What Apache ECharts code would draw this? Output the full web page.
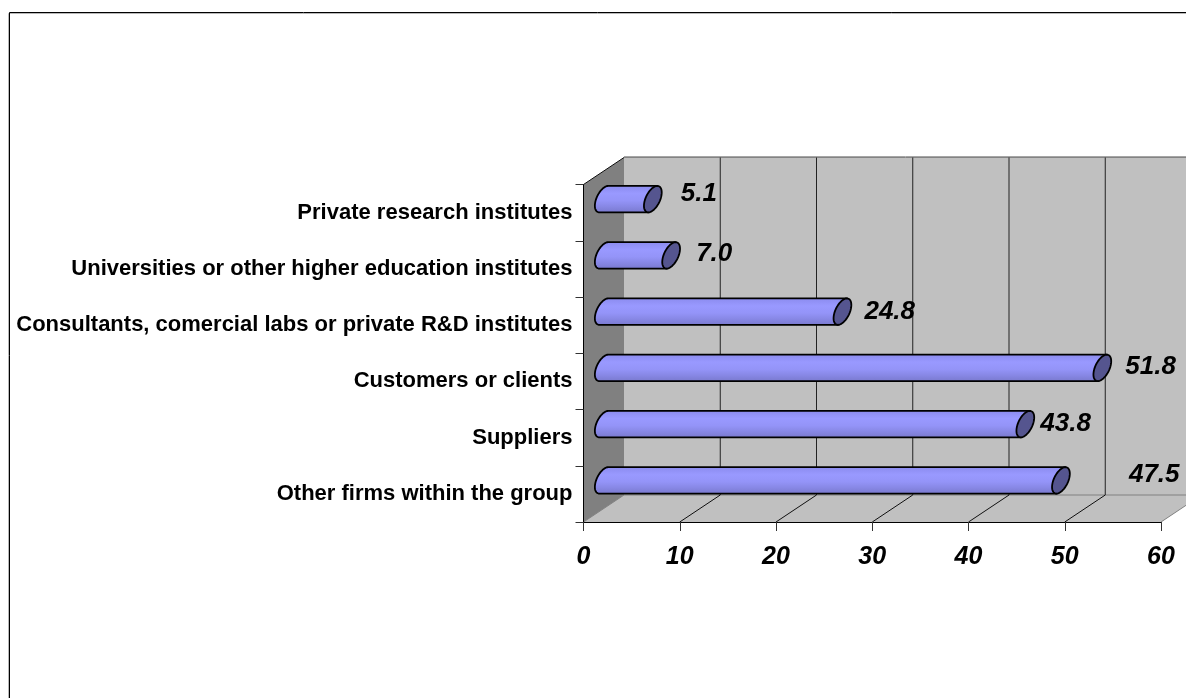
<!DOCTYPE html>
<html>
<head>
<meta charset="utf-8">
<style>
  html, body { margin: 0; padding: 0; background: #fff; overflow: hidden; }
  #chart { width: 1186px; height: 698px; }
</style>
<script src="https://cdn.jsdelivr.net/npm/echarts@6/dist/echarts.min.js"></script>
</head>
<body>
<div id="chart"></div>
<script>
// Sources of information for innovation, share of firms (%)
const categories = [
  'Private research institutes',
  'Universities or other higher education institutes',
  'Consultants, comercial labs or private R&D institutes',
  'Customers or clients',
  'Suppliers',
  'Other firms within the group'
];
const values = [5.1, 7.0, 24.8, 51.8, 43.8, 47.5];
const xTicks = [0, 10, 20, 30, 40, 50, 60];

// Gap from the bar end to its label, and vertical shift of the label, in px
const labelGapX = [28, 25, 22, 23, 15, 68];
const labelShiftY = [-5, -1.5, 0, -1, 0, -6];

// Oblique projection of the box: how far the back plane sits from the front plane
const DEPTH_X = 40.5;
const DEPTH_Y = -27;

const FONT = '"Liberation Sans", Arial, sans-serif';
const chart = echarts.init(document.getElementById('chart'), null, { renderer: 'canvas' });

// Point on the tilted end ellipse of a cylinder
function capPoint(cx, cy, r, t) {
  return [cx + r * 0.34 * Math.cos(t) + r * 0.58 * Math.sin(t), cy - r * Math.cos(t)];
}

function renderPanels(params, api) {
  const c = params.coordSys;
  const x0 = c.x, x1 = c.x + c.width, y0 = c.y, y1 = c.y + c.height;
  const poly = (points, fill) => ({
    type: 'polygon', shape: { points }, style: { fill, stroke: null }, silent: true
  });
  const seg = (a, b, stroke) => ({
    type: 'line',
    shape: { x1: a[0], y1: a[1], x2: b[0], y2: b[1] },
    style: { stroke, lineWidth: 1 }, silent: true
  });
  return {
    type: 'group',
    children: [
      poly([[x0 + DEPTH_X, y0 + DEPTH_Y], [x1 + DEPTH_X, y0 + DEPTH_Y], [x1 + DEPTH_X, y1 + DEPTH_Y], [x0 + DEPTH_X, y1 + DEPTH_Y]], '#c0c0c0'),
      poly([[x0, y1], [x1, y1], [x1 + DEPTH_X, y1 + DEPTH_Y], [x0 + DEPTH_X, y1 + DEPTH_Y]], '#c0c0c0'),
      poly([[x0, y0], [x0 + DEPTH_X, y0 + DEPTH_Y], [x0 + DEPTH_X, y1 + DEPTH_Y], [x0, y1]], '#808080'),
      seg([x0 + DEPTH_X, y0 + DEPTH_Y], [x1 + DEPTH_X, y0 + DEPTH_Y], '#808080'),
      seg([x0 + DEPTH_X, y0 + DEPTH_Y - 0.8], [x1 + DEPTH_X, y0 + DEPTH_Y - 0.8], '#909090'),
      seg([x0 + DEPTH_X, y1 + DEPTH_Y], [x1 + DEPTH_X, y1 + DEPTH_Y], '#808080'),
      seg([x0, y0], [x0 + DEPTH_X, y0 + DEPTH_Y], '#111111')
    ]
  };
}

function renderGridLines(params, api) {
  const c = params.coordSys;
  const t = api.value(0);
  const x = api.coord([t, 0])[0];
  const y0 = c.y, y1 = c.y + c.height;
  const children = [];
  const edge = t === xTicks[0] || t === xTicks[xTicks.length - 1];
  children.push({
    type: 'line',
    shape: { x1: x, y1: y1, x2: x + DEPTH_X, y2: y1 + DEPTH_Y },
    style: { stroke: edge ? '#808080' : '#111111', lineWidth: 1 }, silent: true
  });
  if (!edge) {
    children.push({
      type: 'line',
      shape: { x1: x + DEPTH_X, y1: y0 + DEPTH_Y, x2: x + DEPTH_X, y2: y1 + DEPTH_Y },
      style: { stroke: '#222222', lineWidth: 1 }, silent: true
    });
  }
  return { type: 'group', children };
}

// Cylinders stand at mid-depth of the box
function renderCylinder(params, api) {
  const v = api.value(0);
  const start = api.coord([0, api.value(1)]);
  const end = api.coord([v, api.value(1)]);
  const band = api.size([0, 1])[1];
  const r = band * 0.235;
  const cy = end[1] + DEPTH_Y / 2;
  const lx = start[0] + DEPTH_X / 2;
  const rx = end[0] + DEPTH_X / 2;
  const STEPS = 28;

  const body = [];
  for (let i = 0; i <= STEPS; i++) {
    body.push(capPoint(lx, cy, r, -Math.PI * i / STEPS));
  }
  body.push(capPoint(rx, cy, r, Math.PI));
  body.push(capPoint(rx, cy, r, 0));

  const cap = [];
  for (let i = 0; i < STEPS * 2; i++) {
    cap.push(capPoint(rx, cy, r, Math.PI * i / STEPS));
  }

  const sheen = new echarts.graphic.LinearGradient(0, 0, 0, 1, [
    { offset: 0, color: '#8b8bec' },
    { offset: 0.12, color: '#9090f4' },
    { offset: 0.3, color: '#9999ff' },
    { offset: 0.55, color: '#9494f8' },
    { offset: 0.75, color: '#8888e6' },
    { offset: 1, color: '#7878cc' }
  ]);

  return {
    type: 'group',
    children: [
      {
        type: 'polygon', shape: { points: body },
        style: { fill: sheen, stroke: '#000000', lineWidth: 1.8, lineJoin: 'round' }
      },
      {
        type: 'polygon', shape: { points: cap },
        style: { fill: '#55558f', stroke: '#000000', lineWidth: 1.8, lineJoin: 'round' }
      }
    ]
  };
}

function renderValueLabel(params, api) {
  const i = params.dataIndex;
  const end = api.coord([api.value(0), api.value(1)]);
  return {
    type: 'text',
    x: end[0] + DEPTH_X / 2 + labelGapX[i],
    y: end[1] + DEPTH_Y / 2 + labelShiftY[i],
    style: {
      text: api.value(0).toFixed(1),
      fill: '#000000',
      font: 'italic bold 26px ' + FONT,
      textAlign: 'left',
      textVerticalAlign: 'middle'
    }
  };
}

const barData = values.map((v, i) => [v, i]);

chart.setOption({
  animation: false,
  backgroundColor: '#ffffff',
  grid: { left: 583.5, right: 25, top: 184.5, bottom: 176, containLabel: false },
  xAxis: {
    type: 'value', min: 0, max: 60, interval: 10, z: 5,
    axisLine: { show: true, lineStyle: { color: '#000000', width: 1 } },
    axisTick: { show: true, length: 9, lineStyle: { color: '#333333', width: 1 } },
    splitLine: { show: false },
    axisLabel: {
      color: '#000000', margin: 23,
      fontFamily: FONT, fontWeight: 'bold', fontStyle: 'italic', fontSize: 25
    }
  },
  yAxis: {
    type: 'category', data: categories, inverse: true, z: 5,
    axisLine: { show: true, lineStyle: { color: '#000000', width: 1 } },
    axisTick: { show: true, length: 8, lineStyle: { color: '#333333', width: 1 } },
    splitLine: { show: false },
    axisLabel: {
      color: '#000000', margin: 11, interval: 0,
      fontFamily: FONT, fontWeight: 'bold', fontSize: 22
    }
  },
  series: [
    { type: 'custom', name: 'Box', z: 1, silent: true, clip: false, data: [[0, 0]], encode: { x: 0, y: 1 }, renderItem: renderPanels },
    { type: 'custom', name: 'Gridlines', z: 1.5, silent: true, clip: false, data: xTicks.map(t => [t, 0]), encode: { x: 0, y: 1 }, renderItem: renderGridLines },
    { type: 'custom', name: 'Share of firms', z: 2, clip: false, data: barData, encode: { x: 0, y: 1 }, renderItem: renderCylinder },
    { type: 'custom', name: 'Value labels', z: 3, clip: false, data: barData, encode: { x: 0, y: 1 }, renderItem: renderValueLabel }
  ],
  graphic: [
    {
      type: 'polyline', silent: true, z: 10,
      shape: { points: [[8.5, 698], [8.5, 13.5], [1186, 13.5]] },
      style: { fill: null, stroke: '#b8b8b8', lineWidth: 1 }
    },
    {
      type: 'polyline', silent: true, z: 11,
      shape: { points: [[9.5, 698], [9.5, 12.5], [1186, 12.5]] },
      style: { fill: null, stroke: '#000000', lineWidth: 1 }
    }
  ]
});
</script>
</body>
</html>
